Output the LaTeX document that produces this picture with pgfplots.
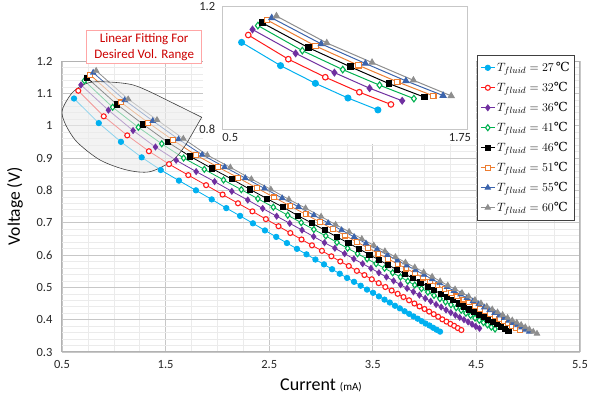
\documentclass[border=0pt]{standalone}
\usepackage{pgfplots}
\pgfplotsset{compat=1.18}
\usepackage{pgfplotstable}
\usepackage{fontspec}
\setmainfont{Carlito}
\newfontfamily\degfont{DejaVu Serif}
\definecolor{cA}{HTML}{00B0F0}
\definecolor{cB}{HTML}{FF1A1A}
\definecolor{cC}{HTML}{7030A0}
\definecolor{cD}{HTML}{00B050}
\definecolor{cE}{HTML}{000000}
\definecolor{cF}{HTML}{ED7D31}
\definecolor{cG}{HTML}{3C64AC}
\definecolor{cH}{HTML}{8E8E8E}

\pgfplotstableread{
x y
0.616 1.084
0.855 1.008
1.069 0.950
1.269 0.902
1.453 0.863
1.629 0.830
1.793 0.800
1.945 0.772
2.086 0.745
2.219 0.721
2.343 0.698
2.459 0.676
2.568 0.656
2.671 0.637
2.768 0.619
2.860 0.602
2.946 0.586
3.029 0.571
3.107 0.556
3.181 0.542
3.252 0.529
3.319 0.517
3.383 0.505
3.444 0.493
3.503 0.483
3.559 0.472
3.613 0.462
3.664 0.453
3.714 0.443
3.761 0.435
3.807 0.426
3.851 0.418
3.893 0.410
3.933 0.403
3.973 0.395
4.010 0.388
4.047 0.382
4.082 0.375
4.116 0.369
4.149 0.363
}\datA

\pgfplotstableread{
x y
0.657 1.108
0.903 1.029
1.130 0.970
1.339 0.921
1.533 0.881
1.719 0.847
1.891 0.816
2.050 0.787
2.199 0.760
2.338 0.735
2.468 0.711
2.590 0.689
2.704 0.668
2.812 0.648
2.913 0.630
3.009 0.613
3.100 0.596
3.186 0.580
3.268 0.566
3.346 0.551
3.419 0.538
3.490 0.525
3.557 0.513
3.621 0.501
3.682 0.490
3.740 0.480
3.796 0.470
3.850 0.460
3.902 0.450
3.951 0.441
3.999 0.433
4.044 0.425
4.088 0.417
4.131 0.409
4.171 0.401
4.211 0.394
4.249 0.387
4.285 0.381
4.321 0.374
4.355 0.368
}\datB

\pgfplotstableread{
x y
0.683 1.126
0.948 1.048
1.186 0.985
1.402 0.934
1.602 0.893
1.795 0.858
1.973 0.827
2.139 0.797
2.293 0.770
2.437 0.744
2.572 0.720
2.698 0.698
2.817 0.677
2.929 0.657
3.034 0.638
3.134 0.621
3.228 0.604
3.317 0.588
3.402 0.573
3.482 0.559
3.559 0.545
3.632 0.532
3.701 0.520
3.768 0.508
3.831 0.497
3.892 0.486
3.950 0.476
4.006 0.466
4.059 0.457
4.111 0.447
4.160 0.439
4.207 0.430
4.253 0.422
4.297 0.414
4.339 0.407
4.380 0.400
4.420 0.393
4.458 0.386
4.494 0.379
4.530 0.373
}\datC

\pgfplotstableread{
x y
0.716 1.139
0.989 1.057
1.237 0.995
1.463 0.944
1.674 0.900
1.874 0.865
2.059 0.832
2.231 0.802
2.391 0.774
2.540 0.748
2.679 0.723
2.809 0.700
2.931 0.679
3.046 0.659
3.154 0.639
3.257 0.621
3.353 0.604
3.445 0.588
3.532 0.573
3.614 0.559
3.692 0.545
3.767 0.532
3.838 0.519
3.905 0.507
3.970 0.496
4.032 0.485
4.091 0.475
4.148 0.465
4.202 0.455
4.255 0.446
4.305 0.437
4.353 0.429
4.399 0.420
4.444 0.413
4.487 0.405
4.528 0.398
4.568 0.391
4.607 0.384
4.644 0.377
4.680 0.371
}\datD

\pgfplotstableread{
x y
0.742 1.148
1.029 1.066
1.284 1.004
1.521 0.949
1.737 0.905
1.945 0.868
2.137 0.835
2.315 0.803
2.480 0.774
2.633 0.748
2.776 0.722
2.910 0.699
3.035 0.677
3.153 0.656
3.264 0.637
3.368 0.619
3.467 0.601
3.560 0.585
3.648 0.569
3.732 0.555
3.811 0.541
3.887 0.528
3.959 0.515
4.028 0.503
4.093 0.491
4.156 0.480
4.216 0.470
4.273 0.460
4.328 0.450
4.380 0.441
4.431 0.432
4.479 0.424
4.526 0.415
4.571 0.408
4.614 0.400
4.656 0.393
4.696 0.386
4.735 0.379
4.772 0.372
4.808 0.366
}\datE

\pgfplotstableread{
x y
0.773 1.157
1.070 1.072
1.333 1.009
1.572 0.955
1.793 0.909
2.005 0.872
2.200 0.839
2.381 0.807
2.549 0.778
2.705 0.751
2.851 0.726
2.987 0.702
3.115 0.680
3.234 0.660
3.347 0.640
3.453 0.622
3.554 0.604
3.649 0.588
3.739 0.572
3.824 0.558
3.905 0.544
3.982 0.530
4.055 0.518
4.125 0.506
4.192 0.494
4.256 0.483
4.316 0.472
4.375 0.462
4.431 0.453
4.484 0.443
4.536 0.434
4.585 0.426
4.633 0.418
4.678 0.410
4.722 0.402
4.765 0.395
4.806 0.388
4.845 0.381
4.883 0.374
4.920 0.368
}\datF

\pgfplotstableread{
x y
0.801 1.164
1.105 1.079
1.376 1.015
1.625 0.958
1.853 0.910
2.070 0.872
2.269 0.838
2.454 0.806
2.625 0.776
2.783 0.749
2.931 0.723
3.069 0.699
3.199 0.677
3.320 0.656
3.434 0.636
3.541 0.618
3.642 0.600
3.738 0.583
3.828 0.568
3.914 0.553
3.995 0.539
4.073 0.525
4.146 0.513
4.216 0.501
4.283 0.489
4.347 0.478
4.408 0.467
4.466 0.457
4.522 0.448
4.576 0.438
4.627 0.429
4.676 0.421
4.724 0.413
4.769 0.405
4.813 0.397
4.855 0.390
4.896 0.383
4.935 0.376
4.973 0.369
5.010 0.363
}\datG

\pgfplotstableread{
x y
0.830 1.170
1.139 1.082
1.417 1.018
1.671 0.960
1.903 0.909
2.125 0.871
2.328 0.835
2.516 0.803
2.690 0.772
2.851 0.745
3.001 0.719
3.141 0.694
3.271 0.672
3.394 0.650
3.509 0.630
3.617 0.612
3.718 0.594
3.815 0.577
3.905 0.562
3.991 0.547
4.073 0.533
4.150 0.519
4.224 0.506
4.294 0.494
4.361 0.483
4.425 0.472
4.486 0.461
4.544 0.451
4.600 0.441
4.653 0.432
4.704 0.423
4.753 0.415
4.801 0.406
4.846 0.398
4.890 0.391
4.932 0.384
4.972 0.377
5.011 0.370
5.049 0.363
5.085 0.357
}\datH

\pgfplotsset{
  sA/.style={color=cA, line width=0.8pt, mark=*, mark size=2.7pt, mark options={solid, fill=cA, draw=cA}},
  sB/.style={color=cB, line width=0.8pt, mark=*, mark size=2.5pt, mark options={solid, fill=white, draw=cB, line width=1.1pt}},
  sC/.style={color=cC, line width=0.8pt, mark=diamond*, mark size=3pt, mark options={solid, fill=cC, draw=cC}},
  sD/.style={color=cD, line width=0.8pt, mark=diamond*, mark size=3pt, mark options={solid, fill=white, draw=cD, line width=1.1pt}},
  sE/.style={color=cE, line width=0.8pt, mark=square*, mark size=2.6pt, mark options={solid, fill=cE, draw=cE}},
  sF/.style={color=cF, line width=0.8pt, mark=square*, mark size=2.4pt, mark options={solid, fill=white, draw=cF, line width=1.1pt}},
  sG/.style={color=cG, line width=0.8pt, mark=triangle*, mark size=3.1pt, mark options={solid, fill=cG, draw=cG}},
  sH/.style={color=cH, line width=0.8pt, mark=triangle*, mark size=3.1pt, mark options={solid, fill=cH, draw=cH}},
}

\begin{document}
\begin{tikzpicture}
\useasboundingbox (0,0) rectangle (590pt,396pt);
\begin{axis}[
  at={(62pt,44pt)}, anchor=south west, scale only axis,
  width=518pt, height=291pt,
  xmin=0.5, xmax=5.5, ymin=0.3, ymax=1.2,
  xtick={0.5,1.5,2.5,3.5,4.5,5.5},
  ytick={0.3,0.4,0.5,0.6,0.7,0.8,0.9,1,1.1,1.2},
  minor x tick num=3, minor y tick num=4,
  grid=both,
  major grid style={draw=black!22, line width=0.7pt},
  minor grid style={draw=black!8, line width=0.5pt},
  major tick length=0pt, minor tick length=0pt,
  axis line style={draw=black!30, line width=1pt},
  /pgf/number format/assume math mode=true,
  tick label style={font=\fontsize{12.5}{14}\selectfont, text=black!85},
  yticklabel style={xshift=-6pt},
  xticklabel style={yshift=-5pt},
  xlabel={Current {\fontsize{11}{13}\selectfont (mA)}},
  ylabel={Voltage (V)},
  xlabel style={font=\fontsize{18}{20}\selectfont, at={(axis description cs:0.5,-0.115)}, anchor=center},
  ylabel style={font=\fontsize{17.5}{20}\selectfont, at={(axis description cs:-0.0907,0.5)}, anchor=center},
  legend cell align=left,
  legend image code/.code={\draw[mark repeat=2,mark phase=2] plot coordinates {(0pt,0pt) (7pt,0pt) (14pt,0pt)};},
  legend style={at={(0.8012,1.0206)}, anchor=north west, draw=black!75, line width=0.8pt, fill=white,
    font=\fontsize{12.5}{14}\selectfont, row sep=5.2pt, inner xsep=3pt, inner ysep=5pt},
]
\addplot[sA] table[x=x,y=y] {\datA};
\addlegendentry{$T_{fluid}=27$\,{\degfont ℃}}
\addplot[sB] table[x=x,y=y] {\datB};
\addlegendentry{$T_{fluid}=32${\degfont ℃}}
\addplot[sC] table[x=x,y=y] {\datC};
\addlegendentry{$T_{fluid}=36${\degfont ℃}}
\addplot[sD] table[x=x,y=y] {\datD};
\addlegendentry{$T_{fluid}=41${\degfont ℃}}
\addplot[sE] table[x=x,y=y] {\datE};
\addlegendentry{$T_{fluid}=46${\degfont ℃}}
\addplot[sF] table[x=x,y=y] {\datF};
\addlegendentry{$T_{fluid}=51${\degfont ℃}}
\addplot[sG] table[x=x,y=y] {\datG};
\addlegendentry{$T_{fluid}=55${\degfont ℃}}
\addplot[sH] table[x=x,y=y] {\datH};
\addlegendentry{$T_{fluid}=60${\degfont ℃}}
% highlighted region (callout ellipse)
\fill[black!8, fill opacity=0.6] (1.8485,1.026) -- plot[smooth] coordinates {(1.7037,0.9455) (1.5743,0.8939) (1.3494,0.8577) (1.1245,0.8630) (0.8668,0.8939) (0.6419,0.9505) (0.5290,1.0074) (0.5029,1.0485) (0.5965,1.1011) (0.7220,1.1290) (0.8668,1.1361) (1.1882,1.1258) (1.5106,1.0795)} -- cycle;
\draw[black!75, line width=0.6pt] (1.8485,1.026) -- plot[smooth] coordinates {(1.7037,0.9455) (1.5743,0.8939) (1.3494,0.8577) (1.1245,0.8630) (0.8668,0.8939) (0.6419,0.9505) (0.5290,1.0074) (0.5029,1.0485) (0.5965,1.1011) (0.7220,1.1290) (0.8668,1.1361) (1.1882,1.1258) (1.5106,1.0795)} -- cycle;
\end{axis}

% inset chart area
\fill[white] (203pt,252pt) rectangle (476pt,396pt);
\begin{axis}[
  at={(222.7pt,266.8pt)}, anchor=south west, scale only axis,
  width=244.3pt, height=122.3pt,
  xmin=0.5, xmax=2, ymin=0.8, ymax=1.2,
  xtick={0.5,2}, xticklabels={{\hspace*{15pt}0.5},{1.75\hspace*{14pt}}},
  ytick={0.8,1.2}, yticklabels={0.8,1.2},
  major tick length=0pt,
  axis line style={draw=black!22, line width=0.8pt},
  axis background/.style={fill=white},
  tick label style={font=\fontsize{12.5}{14}\selectfont, text=black!85},
  yticklabel style={xshift=-4pt},
  xticklabel style={yshift=-1pt},
]
\addplot[sA, line width=1pt, mark size=3pt] table[x=x,y=y, skip coords between index={5}{100}] {\datA};
\addplot[sB, line width=1pt, mark size=2.8pt] table[x=x,y=y, skip coords between index={5}{100}] {\datB};
\addplot[sC, line width=1pt, mark size=3.3pt] table[x=x,y=y, skip coords between index={5}{100}] {\datC};
\addplot[sD, line width=1pt, mark size=3.3pt] table[x=x,y=y, skip coords between index={5}{100}] {\datD};
\addplot[sE, line width=1pt, mark size=2.9pt] table[x=x,y=y, skip coords between index={5}{100}] {\datE};
\addplot[sF, line width=1pt, mark size=2.7pt] table[x=x,y=y, skip coords between index={5}{100}] {\datF};
\addplot[sG, line width=1pt, mark size=3.4pt] table[x=x,y=y, skip coords between index={5}{100}] {\datG};
\addplot[sH, line width=1pt, mark size=3.4pt] table[x=x,y=y, skip coords between index={5}{100}] {\datH};
\end{axis}

\node[draw=red!35, fill=white, line width=0.7pt, text=red!80!black, align=center,
  font=\fontsize{13}{16.5}\selectfont, minimum width=115pt, minimum height=32.6pt, inner sep=2pt]
  at (144.2pt,349pt) {Linear Fitting For\\Desired Vol. Range};
\end{tikzpicture}
\end{document}
